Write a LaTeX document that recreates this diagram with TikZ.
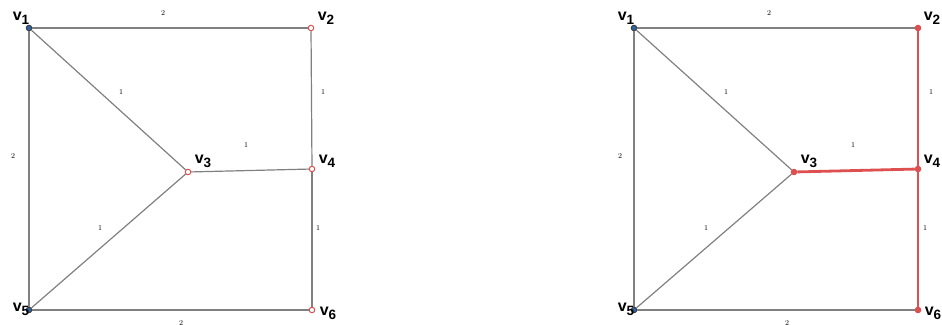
\documentclass[tikz,border=0pt]{standalone}
\usepackage{fontspec}
\newfontfamily\labelfont{Liberation Sans}
\usepackage{tikz}
\usetikzlibrary{positioning}
\definecolor{edgegray}{RGB}{128,128,128}
\definecolor{pathred}{RGB}{222,80,80}
\definecolor{vertblue}{RGB}{40,100,170}

\newcommand{\vlab}[1]{{\labelfont\bfseries\fontsize{16}{16}\selectfont v\raisebox{-0.45ex}{\fontsize{13.5}{13}\selectfont #1}}}

\begin{document}
\begin{tikzpicture}[
    x=1pt, y=-1pt,
    vert/.style={circle, draw, line width=1pt, inner sep=0pt, minimum size=5.5pt},
    bluevert/.style={vert, draw=black!75, fill=vertblue},
    redvert/.style={vert, draw=pathred, fill=white},
    hotvert/.style={vert, draw=pathred, fill=pathred},
    vname/.style={inner sep=0pt},
    wgt/.style={font=\fontsize{7.5}{7.5}\selectfont, text=black, inner sep=0pt},
    edge/.style={draw=edgegray, line width=1.2pt},
    hot/.style={draw=pathred, line width=2.8pt}
]
\useasboundingbox (0,0) rectangle (942,324);

% Left graph
\node[bluevert] (l1) at (29,28) {};
\node[redvert] (l2) at (311,28) {};
\node[redvert] (l3) at (188,172) {};
\node[redvert] (l4) at (312,169) {};
\node[bluevert] (l5) at (29,310) {};
\node[redvert] (l6) at (312,310) {};

\draw[edge] (l1) -- (l2);
\draw[edge] (l1) -- (l3);
\draw[edge] (l1) -- (l5);
\draw[edge] (l2) -- (l4);
\draw[edge] (l3) -- (l4);
\draw[edge] (l3) -- (l5);
\draw[edge] (l4) -- (l6);
\draw[edge] (l5) -- (l6);

\node[vname] at (21,18) {\vlab{1}};
\node[vname] at (326,18) {\vlab{2}};
\node[vname] at (203,161) {\vlab{3}};
\node[vname] at (327,161) {\vlab{4}};
\node[vname] at (21,309) {\vlab{5}};
\node[vname] at (328,313) {\vlab{6}};

\node[wgt] at (163,13) {2};
\node[wgt] at (121,92) {1};
\node[wgt] at (323,92) {1};
\node[wgt] at (246,145) {1};
\node[wgt] at (13,156) {2};
\node[wgt] at (100,228) {1};
\node[wgt] at (318,228) {1};
\node[wgt] at (181,323) {2};

% Right graph (shortest path highlighted)
\node[bluevert] (r1) at (634,28) {};
\node[hotvert] (r2) at (918,28) {};
\node[hotvert] (r3) at (794,172) {};
\node[hotvert] (r4) at (918,169) {};
\node[bluevert] (r5) at (634,310) {};
\node[hotvert] (r6) at (918,310) {};

\draw[edge] (r1) -- (r2);
\draw[edge] (r1) -- (r3);
\draw[edge] (r1) -- (r5);
\draw[edge] (r3) -- (r5);
\draw[edge] (r5) -- (r6);
\draw[hot] (r2) -- (r4);
\draw[hot] (r3) -- (r4);
\draw[hot] (r4) -- (r6);

\node[vname] at (626,18) {\vlab{1}};
\node[vname] at (932,18) {\vlab{2}};
\node[vname] at (809,161) {\vlab{3}};
\node[vname] at (932,161) {\vlab{4}};
\node[vname] at (626,309) {\vlab{5}};
\node[vname] at (933,313) {\vlab{6}};

\node[wgt] at (769,13) {2};
\node[wgt] at (726,92) {1};
\node[wgt] at (931,92) {1};
\node[wgt] at (853,145) {1};
\node[wgt] at (620,156) {2};
\node[wgt] at (706,228) {1};
\node[wgt] at (925,228) {1};
\node[wgt] at (787,323) {2};

\end{tikzpicture}
\end{document}
